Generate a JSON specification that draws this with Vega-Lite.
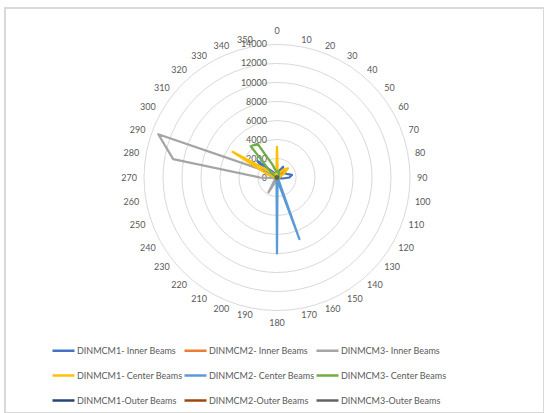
{
"$schema": "https://vega.github.io/schema/vega-lite/v6.json",
"width": 539, "height": 405,
"autosize": {"type": "none"},
"padding": {"left": 5, "top": 8, "right": 0, "bottom": 0},
"background": "white",
"config": {
  "view": {"stroke": "#d9d9d9", "strokeWidth": 2},
  "font": "Lato",
  "legend": {"orient": "none", "legendX": 46, "legendY": 330, "direction": "horizontal", "columns": 3, "gridAlign": "all", "symbolType": "stroke", "symbolSize": 484, "symbolStrokeWidth": 2.5, "labelFont": "Lato", "labelFontSize": 9, "labelColor": "#595959", "labelOffset": 1, "rowPadding": 7, "columnPadding": -6, "padding": 0, "labelLimit": 200, "title": null}
},
"datasets": {
  "names": [
    {"k":1,"name":"DINMCM1- Inner Beams"},{"k":2,"name":"DINMCM2- Inner Beams"},{"k":3,"name":"DINMCM3- Inner Beams"},
    {"k":4,"name":"DINMCM1- Center Beams"},{"k":5,"name":"DINMCM2- Center Beams"},{"k":6,"name":"DINMCM3- Center Beams"},
    {"k":7,"name":"DINMCM1-Outer Beams"},{"k":8,"name":"DINMCM2-Outer Beams"},{"k":9,"name":"DINMCM3-Outer Beams"}
  ],
  "rings": [{"r":2000},{"r":4000},{"r":6000},{"r":8000},{"r":10000},{"r":12000},{"r":14000}],
  "ticks": [{"r":0},{"r":2000},{"r":4000},{"r":6000},{"r":8000},{"r":10000},{"r":12000},{"r":14000}],
  "angles": [{"a":0},{"a":10},{"a":20},{"a":30},{"a":40},{"a":50},{"a":60},{"a":70},{"a":80},{"a":90},{"a":100},{"a":110},{"a":120},{"a":130},{"a":140},{"a":150},{"a":160},{"a":170},{"a":180},{"a":190},{"a":200},{"a":210},{"a":220},{"a":230},{"a":240},{"a":250},{"a":260},{"a":270},{"a":280},{"a":290},{"a":300},{"a":310},{"a":320},{"a":330},{"a":340},{"a":350}],
  "series": [
{"k":1,"a":0,"v":300},{"k":1,"a":10,"v":500},{"k":1,"a":20,"v":800},{"k":1,"a":30,"v":1300},{"k":1,"a":40,"v":700},{"k":1,"a":50,"v":600},{"k":1,"a":60,"v":900},{"k":1,"a":70,"v":1100},{"k":1,"a":80,"v":1600},{"k":1,"a":90,"v":1300},{"k":1,"a":100,"v":600},{"k":1,"a":110,"v":300},{"k":1,"a":120,"v":200},{"k":1,"a":130,"v":150},{"k":1,"a":140,"v":100},{"k":1,"a":150,"v":100},{"k":1,"a":160,"v":100},{"k":1,"a":170,"v":100},{"k":1,"a":180,"v":100},{"k":1,"a":190,"v":100},{"k":1,"a":200,"v":100},{"k":1,"a":210,"v":100},{"k":1,"a":220,"v":100},{"k":1,"a":230,"v":100},{"k":1,"a":240,"v":100},{"k":1,"a":250,"v":150},{"k":1,"a":260,"v":200},{"k":1,"a":270,"v":300},{"k":1,"a":280,"v":500},{"k":1,"a":290,"v":900},{"k":1,"a":300,"v":1500},{"k":1,"a":310,"v":2700},{"k":1,"a":320,"v":900},{"k":1,"a":330,"v":500},{"k":1,"a":340,"v":400},{"k":1,"a":350,"v":300},{"k":1,"a":360,"v":300},
{"k":2,"a":0,"v":150},{"k":2,"a":10,"v":200},{"k":2,"a":20,"v":300},{"k":2,"a":30,"v":500},{"k":2,"a":40,"v":800},{"k":2,"a":50,"v":1200},{"k":2,"a":60,"v":900},{"k":2,"a":70,"v":400},{"k":2,"a":80,"v":300},{"k":2,"a":90,"v":200},{"k":2,"a":100,"v":150},{"k":2,"a":110,"v":100},{"k":2,"a":120,"v":100},{"k":2,"a":130,"v":100},{"k":2,"a":140,"v":100},{"k":2,"a":150,"v":100},{"k":2,"a":160,"v":100},{"k":2,"a":170,"v":100},{"k":2,"a":180,"v":100},{"k":2,"a":190,"v":100},{"k":2,"a":200,"v":300},{"k":2,"a":210,"v":900},{"k":2,"a":220,"v":400},{"k":2,"a":230,"v":150},{"k":2,"a":240,"v":100},{"k":2,"a":250,"v":100},{"k":2,"a":260,"v":100},{"k":2,"a":270,"v":100},{"k":2,"a":280,"v":100},{"k":2,"a":290,"v":100},{"k":2,"a":300,"v":100},{"k":2,"a":310,"v":100},{"k":2,"a":320,"v":100},{"k":2,"a":330,"v":100},{"k":2,"a":340,"v":100},{"k":2,"a":350,"v":100},{"k":2,"a":360,"v":150},
{"k":3,"a":0,"v":150},{"k":3,"a":10,"v":150},{"k":3,"a":20,"v":150},{"k":3,"a":30,"v":150},{"k":3,"a":40,"v":150},{"k":3,"a":50,"v":150},{"k":3,"a":60,"v":150},{"k":3,"a":70,"v":150},{"k":3,"a":80,"v":150},{"k":3,"a":90,"v":150},{"k":3,"a":100,"v":150},{"k":3,"a":110,"v":150},{"k":3,"a":120,"v":150},{"k":3,"a":130,"v":150},{"k":3,"a":140,"v":150},{"k":3,"a":150,"v":150},{"k":3,"a":160,"v":150},{"k":3,"a":170,"v":150},{"k":3,"a":180,"v":150},{"k":3,"a":190,"v":150},{"k":3,"a":200,"v":500},{"k":3,"a":210,"v":1800},{"k":3,"a":220,"v":400},{"k":3,"a":230,"v":150},{"k":3,"a":240,"v":150},{"k":3,"a":250,"v":200},{"k":3,"a":260,"v":300},{"k":3,"a":270,"v":1800},{"k":3,"a":280,"v":11100},{"k":3,"a":290,"v":13300},{"k":3,"a":300,"v":1300},{"k":3,"a":310,"v":300},{"k":3,"a":320,"v":200},{"k":3,"a":330,"v":150},{"k":3,"a":340,"v":150},{"k":3,"a":350,"v":150},{"k":3,"a":360,"v":150},
{"k":4,"a":0,"v":3300},{"k":4,"a":10,"v":400},{"k":4,"a":20,"v":300},{"k":4,"a":30,"v":600},{"k":4,"a":40,"v":1100},{"k":4,"a":50,"v":1500},{"k":4,"a":60,"v":800},{"k":4,"a":70,"v":400},{"k":4,"a":80,"v":300},{"k":4,"a":90,"v":200},{"k":4,"a":100,"v":150},{"k":4,"a":110,"v":150},{"k":4,"a":120,"v":150},{"k":4,"a":130,"v":150},{"k":4,"a":140,"v":150},{"k":4,"a":150,"v":150},{"k":4,"a":160,"v":150},{"k":4,"a":170,"v":150},{"k":4,"a":180,"v":150},{"k":4,"a":190,"v":150},{"k":4,"a":200,"v":150},{"k":4,"a":210,"v":150},{"k":4,"a":220,"v":150},{"k":4,"a":230,"v":150},{"k":4,"a":240,"v":150},{"k":4,"a":250,"v":150},{"k":4,"a":260,"v":150},{"k":4,"a":270,"v":150},{"k":4,"a":280,"v":300},{"k":4,"a":290,"v":1200},{"k":4,"a":300,"v":5400},{"k":4,"a":310,"v":1000},{"k":4,"a":320,"v":400},{"k":4,"a":330,"v":300},{"k":4,"a":340,"v":300},{"k":4,"a":350,"v":400},{"k":4,"a":360,"v":3300},
{"k":5,"a":0,"v":150},{"k":5,"a":10,"v":150},{"k":5,"a":20,"v":150},{"k":5,"a":30,"v":150},{"k":5,"a":40,"v":150},{"k":5,"a":50,"v":150},{"k":5,"a":60,"v":150},{"k":5,"a":70,"v":150},{"k":5,"a":80,"v":150},{"k":5,"a":90,"v":150},{"k":5,"a":100,"v":150},{"k":5,"a":110,"v":150},{"k":5,"a":120,"v":150},{"k":5,"a":130,"v":150},{"k":5,"a":140,"v":200},{"k":5,"a":150,"v":400},{"k":5,"a":160,"v":6900},{"k":5,"a":170,"v":300},{"k":5,"a":180,"v":8000},{"k":5,"a":190,"v":300},{"k":5,"a":200,"v":150},{"k":5,"a":210,"v":150},{"k":5,"a":220,"v":150},{"k":5,"a":230,"v":150},{"k":5,"a":240,"v":150},{"k":5,"a":250,"v":150},{"k":5,"a":260,"v":150},{"k":5,"a":270,"v":150},{"k":5,"a":280,"v":150},{"k":5,"a":290,"v":150},{"k":5,"a":300,"v":150},{"k":5,"a":310,"v":150},{"k":5,"a":320,"v":150},{"k":5,"a":330,"v":150},{"k":5,"a":340,"v":150},{"k":5,"a":350,"v":150},{"k":5,"a":360,"v":150},
{"k":6,"a":0,"v":500},{"k":6,"a":10,"v":700},{"k":6,"a":20,"v":600},{"k":6,"a":30,"v":400},{"k":6,"a":40,"v":300},{"k":6,"a":50,"v":200},{"k":6,"a":60,"v":200},{"k":6,"a":70,"v":200},{"k":6,"a":80,"v":200},{"k":6,"a":90,"v":200},{"k":6,"a":100,"v":200},{"k":6,"a":110,"v":200},{"k":6,"a":120,"v":200},{"k":6,"a":130,"v":200},{"k":6,"a":140,"v":200},{"k":6,"a":150,"v":200},{"k":6,"a":160,"v":200},{"k":6,"a":170,"v":200},{"k":6,"a":180,"v":200},{"k":6,"a":190,"v":200},{"k":6,"a":200,"v":200},{"k":6,"a":210,"v":200},{"k":6,"a":220,"v":200},{"k":6,"a":230,"v":200},{"k":6,"a":240,"v":200},{"k":6,"a":250,"v":200},{"k":6,"a":260,"v":200},{"k":6,"a":270,"v":200},{"k":6,"a":280,"v":200},{"k":6,"a":290,"v":200},{"k":6,"a":300,"v":300},{"k":6,"a":310,"v":800},{"k":6,"a":320,"v":4300},{"k":6,"a":330,"v":4100},{"k":6,"a":340,"v":1500},{"k":6,"a":350,"v":700},{"k":6,"a":360,"v":500},
{"k":7,"a":0,"v":100},{"k":7,"a":10,"v":100},{"k":7,"a":20,"v":100},{"k":7,"a":30,"v":100},{"k":7,"a":40,"v":100},{"k":7,"a":50,"v":100},{"k":7,"a":60,"v":100},{"k":7,"a":70,"v":100},{"k":7,"a":80,"v":100},{"k":7,"a":90,"v":100},{"k":7,"a":100,"v":100},{"k":7,"a":110,"v":100},{"k":7,"a":120,"v":100},{"k":7,"a":130,"v":100},{"k":7,"a":140,"v":100},{"k":7,"a":150,"v":100},{"k":7,"a":160,"v":100},{"k":7,"a":170,"v":100},{"k":7,"a":180,"v":100},{"k":7,"a":190,"v":100},{"k":7,"a":200,"v":100},{"k":7,"a":210,"v":100},{"k":7,"a":220,"v":100},{"k":7,"a":230,"v":100},{"k":7,"a":240,"v":100},{"k":7,"a":250,"v":100},{"k":7,"a":260,"v":100},{"k":7,"a":270,"v":100},{"k":7,"a":280,"v":100},{"k":7,"a":290,"v":100},{"k":7,"a":300,"v":100},{"k":7,"a":310,"v":100},{"k":7,"a":320,"v":100},{"k":7,"a":330,"v":100},{"k":7,"a":340,"v":100},{"k":7,"a":350,"v":100},{"k":7,"a":360,"v":100},
{"k":8,"a":0,"v":80},{"k":8,"a":10,"v":80},{"k":8,"a":20,"v":80},{"k":8,"a":30,"v":80},{"k":8,"a":40,"v":80},{"k":8,"a":50,"v":80},{"k":8,"a":60,"v":80},{"k":8,"a":70,"v":80},{"k":8,"a":80,"v":80},{"k":8,"a":90,"v":80},{"k":8,"a":100,"v":80},{"k":8,"a":110,"v":80},{"k":8,"a":120,"v":80},{"k":8,"a":130,"v":80},{"k":8,"a":140,"v":80},{"k":8,"a":150,"v":80},{"k":8,"a":160,"v":80},{"k":8,"a":170,"v":80},{"k":8,"a":180,"v":80},{"k":8,"a":190,"v":80},{"k":8,"a":200,"v":80},{"k":8,"a":210,"v":80},{"k":8,"a":220,"v":80},{"k":8,"a":230,"v":80},{"k":8,"a":240,"v":80},{"k":8,"a":250,"v":80},{"k":8,"a":260,"v":80},{"k":8,"a":270,"v":80},{"k":8,"a":280,"v":80},{"k":8,"a":290,"v":80},{"k":8,"a":300,"v":80},{"k":8,"a":310,"v":80},{"k":8,"a":320,"v":80},{"k":8,"a":330,"v":80},{"k":8,"a":340,"v":80},{"k":8,"a":350,"v":80},{"k":8,"a":360,"v":80},
{"k":9,"a":0,"v":60},{"k":9,"a":10,"v":60},{"k":9,"a":20,"v":60},{"k":9,"a":30,"v":60},{"k":9,"a":40,"v":60},{"k":9,"a":50,"v":60},{"k":9,"a":60,"v":60},{"k":9,"a":70,"v":60},{"k":9,"a":80,"v":60},{"k":9,"a":90,"v":60},{"k":9,"a":100,"v":60},{"k":9,"a":110,"v":60},{"k":9,"a":120,"v":60},{"k":9,"a":130,"v":60},{"k":9,"a":140,"v":60},{"k":9,"a":150,"v":60},{"k":9,"a":160,"v":60},{"k":9,"a":170,"v":60},{"k":9,"a":180,"v":60},{"k":9,"a":190,"v":60},{"k":9,"a":200,"v":60},{"k":9,"a":210,"v":60},{"k":9,"a":220,"v":60},{"k":9,"a":230,"v":60},{"k":9,"a":240,"v":60},{"k":9,"a":250,"v":60},{"k":9,"a":260,"v":60},{"k":9,"a":270,"v":60},{"k":9,"a":280,"v":60},{"k":9,"a":290,"v":60},{"k":9,"a":300,"v":60},{"k":9,"a":310,"v":60},{"k":9,"a":320,"v":60},{"k":9,"a":330,"v":60},{"k":9,"a":340,"v":60},{"k":9,"a":350,"v":60},{"k":9,"a":360,"v":60}
  ]
},
"layer": [
  {
    "data": {"name": "rings"},
    "mark": {"type": "point", "shape": "circle", "filled": false, "color": "#d9d9d9", "strokeWidth": 1, "opacity": 1},
    "encoding": {
      "x": {"datum": 0, "type": "quantitative", "scale": {"domain": [-28632, 28105], "nice": false, "zero": false}, "axis": null},
      "y": {"datum": 0, "type": "quantitative", "scale": {"domain": [-24789, 17842], "nice": false, "zero": false}, "axis": null},
      "size": {"field": "r", "type": "quantitative", "scale": {"type": "pow", "exponent": 2, "domain": [0, 14000], "range": [0, 70756]}, "legend": null}
    }
  },
  {
    "data": {"name": "angles"},
    "transform": [
      {"filter": "datum.a > 0 && datum.a < 180"},
      {"calculate": "14737*sin(datum.a*PI/180)", "as": "lx"},
      {"calculate": "14737*cos(datum.a*PI/180)", "as": "ly"}
    ],
    "mark": {"type": "text", "fontSize": 9, "color": "#595959", "font": "Lato", "baseline": "middle", "align": "left"},
    "encoding": {
      "x": {"field": "lx", "type": "quantitative", "scale": {"domain": [-28632, 28105], "nice": false, "zero": false}, "axis": null},
      "y": {"field": "ly", "type": "quantitative", "scale": {"domain": [-24789, 17842], "nice": false, "zero": false}, "axis": null},
      "text": {"field": "a", "type": "quantitative", "format": "d"}
    }
  },
  {
    "data": {"name": "angles"},
    "transform": [
      {"filter": "datum.a > 180"},
      {"calculate": "14737*sin(datum.a*PI/180)", "as": "lx"},
      {"calculate": "14737*cos(datum.a*PI/180)", "as": "ly"}
    ],
    "mark": {"type": "text", "fontSize": 9, "color": "#595959", "font": "Lato", "baseline": "middle", "align": "right"},
    "encoding": {
      "x": {"field": "lx", "type": "quantitative", "scale": {"domain": [-28632, 28105], "nice": false, "zero": false}, "axis": null},
      "y": {"field": "ly", "type": "quantitative", "scale": {"domain": [-24789, 17842], "nice": false, "zero": false}, "axis": null},
      "text": {"field": "a", "type": "quantitative", "format": "d"}
    }
  },
  {
    "data": {"name": "angles"},
    "transform": [
      {"filter": "datum.a == 0"},
      {"calculate": "14737*sin(datum.a*PI/180)", "as": "lx"},
      {"calculate": "14737*cos(datum.a*PI/180)", "as": "ly"}
    ],
    "mark": {"type": "text", "fontSize": 9, "color": "#595959", "font": "Lato", "baseline": "bottom", "align": "center", "dy": -1},
    "encoding": {
      "x": {"field": "lx", "type": "quantitative", "scale": {"domain": [-28632, 28105], "nice": false, "zero": false}, "axis": null},
      "y": {"field": "ly", "type": "quantitative", "scale": {"domain": [-24789, 17842], "nice": false, "zero": false}, "axis": null},
      "text": {"field": "a", "type": "quantitative", "format": "d"}
    }
  },
  {
    "data": {"name": "angles"},
    "transform": [
      {"filter": "datum.a == 180"},
      {"calculate": "14737*sin(datum.a*PI/180)", "as": "lx"},
      {"calculate": "14737*cos(datum.a*PI/180)", "as": "ly"}
    ],
    "mark": {"type": "text", "fontSize": 9, "color": "#595959", "font": "Lato", "baseline": "top", "align": "center", "dy": 1},
    "encoding": {
      "x": {"field": "lx", "type": "quantitative", "scale": {"domain": [-28632, 28105], "nice": false, "zero": false}, "axis": null},
      "y": {"field": "ly", "type": "quantitative", "scale": {"domain": [-24789, 17842], "nice": false, "zero": false}, "axis": null},
      "text": {"field": "a", "type": "quantitative", "format": "d"}
    }
  },
  {
    "data": {"name": "ticks"},
    "mark": {"type": "text", "fontSize": 9, "color": "#595959", "font": "Lato", "baseline": "middle", "align": "right", "dx": -10},
    "encoding": {
      "x": {"datum": 0, "type": "quantitative", "scale": {"domain": [-28632, 28105], "nice": false, "zero": false}, "axis": null},
      "y": {"field": "r", "type": "quantitative", "scale": {"domain": [-24789, 17842], "nice": false, "zero": false}, "axis": null},
      "text": {"field": "r", "type": "quantitative", "format": "d"}
    }
  },
  {
    "data": {"name": "series"},
    "transform": [
      {"lookup": "k", "from": {"data": {"name": "names"}, "key": "k", "fields": ["name"]}},
      {"calculate": "datum.v*sin(datum.a*PI/180)", "as": "x"},
      {"calculate": "datum.v*cos(datum.a*PI/180)", "as": "y"}
    ],
    "mark": {"type": "line", "strokeWidth": 2.25, "strokeJoin": "round"},
    "encoding": {
      "x": {"field": "x", "type": "quantitative", "scale": {"domain": [-28632, 28105], "nice": false, "zero": false}, "axis": null},
      "y": {"field": "y", "type": "quantitative", "scale": {"domain": [-24789, 17842], "nice": false, "zero": false}, "axis": null},
      "order": {"field": "a", "type": "quantitative"},
      "color": {"field": "name", "type": "nominal",
        "scale": {"domain": ["DINMCM1- Inner Beams","DINMCM2- Inner Beams","DINMCM3- Inner Beams","DINMCM1- Center Beams","DINMCM2- Center Beams","DINMCM3- Center Beams","DINMCM1-Outer Beams","DINMCM2-Outer Beams","DINMCM3-Outer Beams"],
                  "range": ["#4472C4","#ED7D31","#A5A5A5","#FFC000","#5B9BD5","#70AD47","#264478","#9E480E","#636363"]},
        "sort": null}
    }
  }
]
}
